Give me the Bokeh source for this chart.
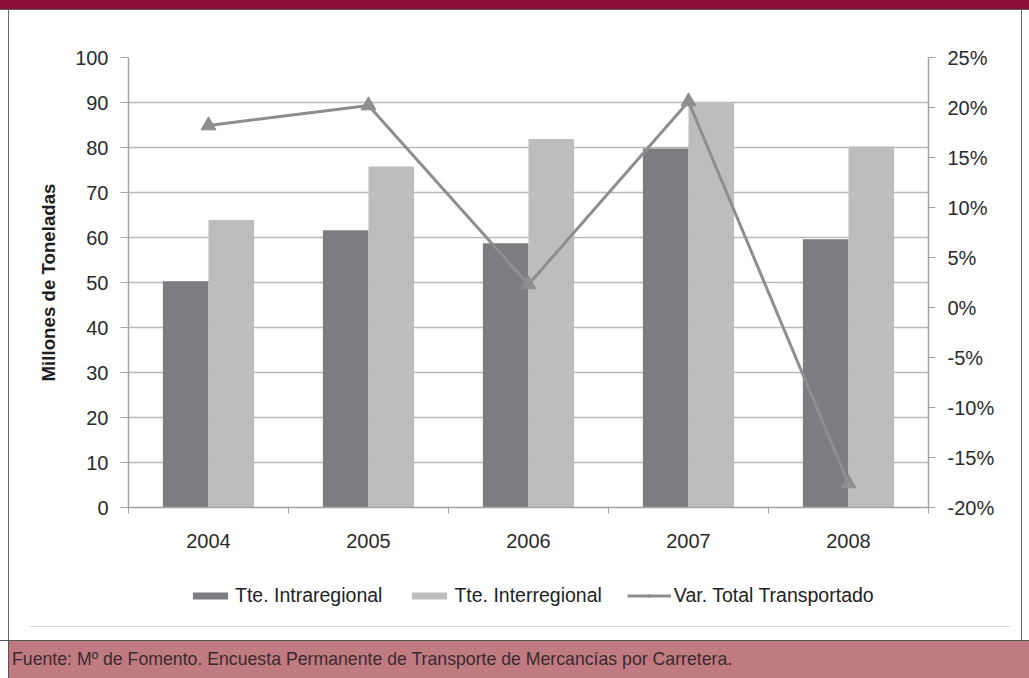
from bokeh.plotting import figure
from bokeh.models import (Range1d, LinearAxis, FixedTicker, PrintfTickFormatter,
                          Legend, LegendItem, Div)
from bokeh.layouts import column, row
from bokeh.embed import file_html
from bokeh.resources import INLINE
import numpy as np

# ---- data ----
years = ["2004", "2005", "2006", "2007", "2008"]
intraregional = [50.3, 61.6, 58.7, 79.8, 59.6]      # millones de toneladas
interregional = [63.9, 75.8, 81.9, 90.1, 80.2]      # millones de toneladas
var_total = [18.2, 20.2, 2.3, 20.6, -17.6]          # % variación total transportado
series_names = ["Tte. Intraregional", "Tte. Interregional", "Var. Total Transportado"]
left_ticks = [0, 10, 20, 30, 40, 50, 60, 70, 80, 90, 100]
right_ticks = [-20, -15, -10, -5, 0, 5, 10, 15, 20, 25]
source_text = "Fuente: Mº de Fomento. Encuesta Permanente de Transporte de Mercancías por Carretera."

FONT = "Liberation Sans, Arial, sans-serif"
TXT = "#2b2b2b"
AX = "#a3a3a3"
C_DARK = "#7c7d81"
C_LIGHT = "#bcbdbf"
C_LINE = "#8e8e90"

idx = np.arange(len(years))
centers = idx + 0.5
off = 0.1425
bw = 0.285

p = figure(width=1012, height=555, x_range=Range1d(0, len(years)), y_range=Range1d(0, 100),
           output_backend="svg", toolbar_location=None,
           min_border_left=119, min_border_right=93, min_border_top=47, min_border_bottom=58,
           background_fill_color="white", border_fill_color="white")
p.outline_line_color = None
p.extra_y_ranges = {"pct": Range1d(-20, 25)}

# ---- axes ----
p.yaxis.ticker = FixedTicker(ticks=left_ticks)
p.yaxis.axis_label = "Millones de Toneladas"
p.yaxis.axis_label_text_font = FONT
p.yaxis.axis_label_text_font_style = "bold"
p.yaxis.axis_label_text_font_size = "18.7px"
p.yaxis.axis_label_text_color = "#1e1e1e"
p.yaxis.axis_label_standoff = 13
p.yaxis.major_label_text_font = FONT
p.yaxis.major_label_text_font_size = "20px"
p.yaxis.major_label_text_color = TXT
p.yaxis.major_label_standoff = 12
p.yaxis.major_tick_out = 8
p.yaxis.major_tick_in = 0
p.yaxis.minor_tick_out = 0
p.yaxis.minor_tick_in = 0
p.yaxis.axis_line_color = AX
p.yaxis.major_tick_line_color = AX
p.yaxis.axis_line_width = 1.5

ry = LinearAxis(y_range_name="pct", ticker=FixedTicker(ticks=right_ticks),
                formatter=PrintfTickFormatter(format="%d%%"))
ry.major_label_text_font = FONT
ry.major_label_text_font_size = "20px"
ry.major_label_text_color = TXT
ry.major_label_standoff = 12
ry.major_tick_out = 7
ry.major_tick_in = 0
ry.minor_tick_out = 0
ry.minor_tick_in = 0
ry.axis_line_color = AX
ry.major_tick_line_color = AX
ry.axis_line_width = 1.5
p.add_layout(ry, "right")

p.xaxis.ticker = FixedTicker(ticks=list(centers), minor_ticks=list(range(len(years) + 1)))
p.xaxis.major_label_overrides = {float(c): y for c, y in zip(centers, years)}
p.xaxis.major_label_text_font = FONT
p.xaxis.major_label_text_font_size = "20px"
p.xaxis.major_label_text_color = TXT
p.xaxis.major_label_standoff = 20
p.xaxis.major_tick_out = 0
p.xaxis.major_tick_in = 0
p.xaxis.minor_tick_out = 6
p.xaxis.minor_tick_in = 0
p.xaxis.minor_tick_line_color = AX
p.xaxis.axis_line_color = AX
p.xaxis.axis_line_width = 1.5

p.xgrid.visible = False
p.ygrid.ticker = FixedTicker(ticks=left_ticks)
p.ygrid.grid_line_color = "#b9b9b9"
p.ygrid.grid_line_width = 1.5

# ---- glyphs ----
p.vbar(x=centers - off, top=intraregional, width=bw, bottom=0, fill_color=C_DARK, line_color=None)
p.vbar(x=centers + off, top=interregional, width=bw, bottom=0, fill_color=C_LIGHT, line_color=None)
p.line(x=centers, y=var_total, y_range_name="pct", line_color=C_LINE, line_width=3)
p.scatter(x=centers, y=var_total, y_range_name="pct", marker="triangle", size=15,
          fill_color=C_LINE, line_color=C_LINE)

# ---- legend strip under the chart (same series & styles, data kept out of its view) ----
lf = figure(width=1012, height=50, x_range=Range1d(0, len(years)), y_range=Range1d(1000, 1001),
            output_backend="svg", toolbar_location=None,
            min_border_left=0, min_border_right=0, min_border_top=0, min_border_bottom=0,
            background_fill_color="white", border_fill_color="white")
lf.outline_line_color = None
lf.axis.visible = False
lf.grid.visible = False
l_dark = lf.vbar(x=centers - off, top=intraregional, width=bw, bottom=0,
                 fill_color=C_DARK, line_color=None)
l_light = lf.vbar(x=centers + off, top=interregional, width=bw, bottom=0,
                  fill_color=C_LIGHT, line_color=None)
l_line = lf.line(x=centers, y=var_total, line_color=C_LINE, line_width=3)
l_mark = lf.scatter(x=centers, y=var_total, marker="triangle", size=12,
                    fill_color=C_LINE, line_color=C_LINE)
legend = Legend(items=[LegendItem(label=series_names[0], renderers=[l_dark]),
                       LegendItem(label=series_names[1], renderers=[l_light]),
                       LegendItem(label=series_names[2], renderers=[l_line, l_mark])],
                orientation="horizontal", location=(60, 8),
                glyph_width=44, glyph_height=9, label_standoff=3, spacing=25,
                padding=0, margin=0, border_line_color=None, background_fill_alpha=0,
                label_text_font=FONT, label_text_font_size="19.5px", label_text_color="#222222")
lf.add_layout(legend, "center")

spacer = Div(text="", width=1012, height=25, margin=0,
             styles={"background": "linear-gradient(#d2d2d2, #d2d2d2) no-repeat 21px 11px / 980px 1px white"})

# ---- page frame (header band, side borders, footer) ----
def bar_div(w, h, color):
    return Div(text="", width=w, height=h, margin=0, styles={"background-color": color})

header = column(bar_div(1029, 9, "#8b0d3a"), bar_div(1029, 1, "#5e5e5e"), spacing=0)
inner = column(p, lf, spacer, spacing=0)
middle = row(bar_div(8, 630, "white"), bar_div(1, 630, "#6a6a6a"), inner,
             bar_div(1, 630, "#6a6a6a"), bar_div(7, 630, "white"), spacing=0)
footer_text = Div(
    text=('<div style="font-family: Liberation Sans, Arial, sans-serif; font-size: 17.7px; '
          'color: #3b2a2d; line-height: 36px; padding-left: 3px; white-space: nowrap;">'
          + source_text + '</div>'),
    width=1020, height=37, margin=0, styles={"background-color": "#c07a82"})
footer = column(bar_div(1029, 1, "#555555"),
                row(bar_div(8, 37, "white"), bar_div(1, 37, "#555555"), footer_text, spacing=0),
                spacing=0)
page = column(header, middle, footer, spacing=0)

open("out.html", "w").write(file_html(page, INLINE))
